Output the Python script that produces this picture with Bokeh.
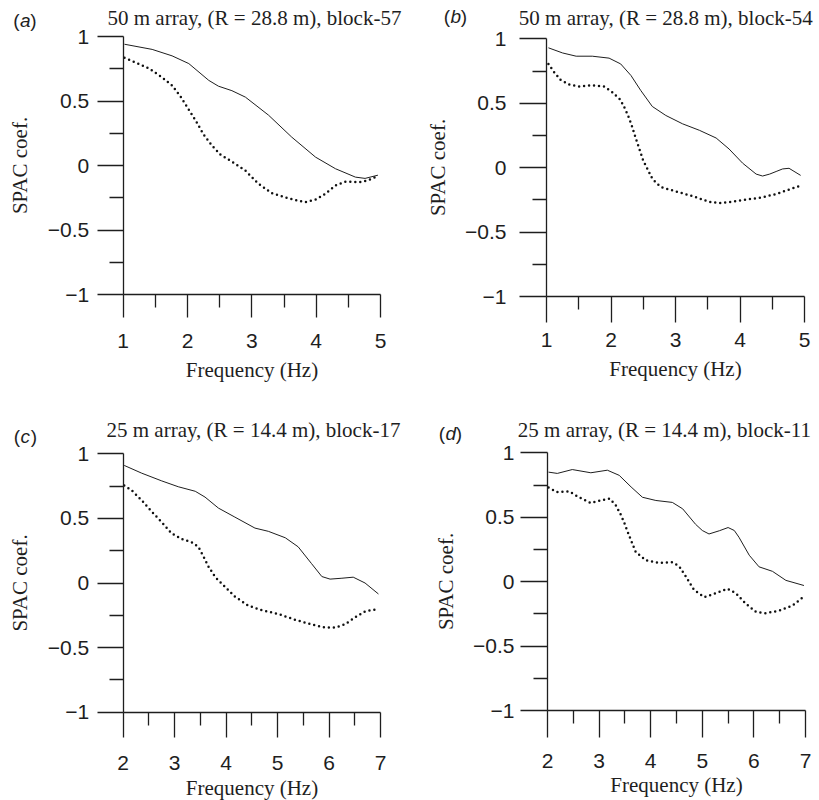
from bokeh.plotting import figure
from bokeh.layouts import column, row
from bokeh.models import FixedTicker, Label, Range1d, CustomJSTickFormatter
from bokeh.embed import file_html
from bokeh.resources import INLINE

# ---------------- data ----------------
Y_TICKS = [-1, -0.5, 0, 0.5, 1]
Y_MINOR = [-0.75, -0.25, 0.25, 0.75]
X_TICKS_TOP = [1, 2, 3, 4, 5]
X_MINOR_TOP = [1.5, 2.5, 3.5, 4.5]
X_TICKS_BOT = [2, 3, 4, 5, 6, 7]
X_MINOR_BOT = [2.5, 3.5, 4.5, 5.5, 6.5]

TITLES = ["50 m array, (R = 28.8 m), block-57",
          "50 m array, (R = 28.8 m), block-54",
          "25 m array, (R = 14.4 m), block-17",
          "25 m array, (R = 14.4 m), block-11"]
LETTERS = ["a", "b", "c", "d"]

A_SOLID_F = [1.02, 1.45, 1.76, 2.02, 2.33, 2.48, 2.69, 2.90, 3.26, 3.62, 3.99, 4.30, 4.61, 4.76, 4.96]
A_SOLID_V = [0.94, 0.90, 0.85, 0.79, 0.66, 0.615, 0.58, 0.53, 0.39, 0.22, 0.065, -0.025, -0.09, -0.10, -0.075]
A_DOT_F = [1.02, 1.21, 1.41, 1.60, 1.76, 1.89, 2.01, 2.13, 2.25, 2.38, 2.51, 2.69, 2.90, 3.10, 3.31,
           3.57, 3.83, 3.99, 4.14, 4.30, 4.45, 4.66, 4.81, 4.96]
A_DOT_V = [0.835, 0.795, 0.75, 0.685, 0.62, 0.535, 0.44, 0.345, 0.24, 0.155, 0.085, 0.03, -0.04, -0.14,
           -0.215, -0.255, -0.285, -0.265, -0.22, -0.155, -0.125, -0.13, -0.115, -0.08]

B_SOLID_F = [1.03, 1.25, 1.46, 1.71, 1.97, 2.15, 2.31, 2.46, 2.64, 2.85, 3.11, 3.37, 3.63, 3.83, 4.04,
             4.25, 4.35, 4.46, 4.56, 4.66, 4.76, 4.94]
B_SOLID_V = [0.93, 0.89, 0.865, 0.865, 0.85, 0.805, 0.715, 0.60, 0.475, 0.405, 0.34, 0.29, 0.23, 0.145,
             0.035, -0.05, -0.065, -0.05, -0.03, -0.01, -0.005, -0.06]
B_DOT_F = [1.03, 1.12, 1.22, 1.35, 1.51, 1.71, 1.89, 2.01, 2.14, 2.20, 2.26, 2.32, 2.38, 2.44, 2.50, 2.57,
           2.63, 2.70, 2.80, 3.01, 3.26, 3.52, 3.68, 3.88, 4.14, 4.35, 4.56, 4.76, 4.94]
B_DOT_V = [0.805, 0.74, 0.68, 0.645, 0.63, 0.64, 0.63, 0.59, 0.53, 0.475, 0.41, 0.33, 0.235, 0.145, 0.055,
           -0.015, -0.075, -0.12, -0.155, -0.185, -0.22, -0.265, -0.275, -0.265, -0.245, -0.23, -0.205,
           -0.17, -0.14]

C_SOLID_F = [2.02, 2.36, 2.75, 3.07, 3.40, 3.59, 3.85, 4.17, 4.56, 4.82, 5.15, 5.40, 5.66, 5.86, 6.02,
             6.25, 6.47, 6.70, 6.96]
C_SOLID_V = [0.91, 0.85, 0.79, 0.745, 0.71, 0.665, 0.58, 0.51, 0.425, 0.40, 0.35, 0.28, 0.15, 0.05, 0.03,
             0.037, 0.045, 0.0, -0.085]
C_DOT_F = [2.02, 2.17, 2.36, 2.56, 2.75, 2.94, 3.14, 3.33, 3.46, 3.56, 3.66, 3.79, 3.98, 4.17, 4.43, 4.69,
           5.02, 5.34, 5.66, 5.92, 6.12, 6.31, 6.51, 6.70, 6.96]
C_DOT_V = [0.755, 0.715, 0.64, 0.55, 0.47, 0.385, 0.34, 0.315, 0.28, 0.205, 0.125, 0.045, -0.03, -0.105,
           -0.175, -0.21, -0.24, -0.285, -0.32, -0.345, -0.345, -0.32, -0.265, -0.22, -0.20]

D_SOLID_F = [2.02, 2.19, 2.48, 2.84, 3.16, 3.39, 3.62, 3.84, 4.10, 4.42, 4.62, 4.87, 5.00, 5.13, 5.33,
             5.50, 5.62, 5.71, 5.91, 6.10, 6.36, 6.62, 6.97]
D_SOLID_V = [0.85, 0.84, 0.87, 0.845, 0.865, 0.825, 0.735, 0.655, 0.63, 0.615, 0.565, 0.445, 0.397, 0.37,
             0.395, 0.42, 0.397, 0.345, 0.205, 0.115, 0.08, 0.01, -0.03]
D_DOT_F = [2.02, 2.19, 2.42, 2.61, 2.84, 3.03, 3.20, 3.32, 3.42, 3.49, 3.55, 3.62, 3.71, 3.91, 4.16, 4.42,
           4.55, 4.68, 4.84, 5.04, 5.26, 5.49, 5.65, 5.84, 6.04, 6.23, 6.49, 6.75, 6.97]
D_DOT_V = [0.73, 0.695, 0.70, 0.655, 0.61, 0.63, 0.645, 0.595, 0.52, 0.455, 0.39, 0.32, 0.23, 0.165, 0.145,
           0.15, 0.12, 0.04, -0.065, -0.12, -0.09, -0.055, -0.09, -0.17, -0.235, -0.245, -0.225, -0.185,
           -0.115]

INK = "#1e1e1e"
SANS = "Liberation Sans"
SERIF = "Liberation Serif"


def make_panel(w, h, xb, px0, px1, py_top, py_bot, xt, xm, sf, sv, df, dv, title, letter,
               title_off, letter_off, ytick_out, xtick_out, y_std, x_std, ylab_std, xlab_std):
    # map the axis box (in figure pixels) onto data ranges so the frame is the whole figure
    sx = (px1 - px0) / (xb[1] - xb[0])
    sy = (py_bot - py_top) / 2.0
    xr = Range1d(xb[0] - px0 / sx, xb[1] + (w - px1) / sx)
    yr = Range1d(-1 - (h - py_bot) / sy, 1 + py_top / sy)
    p = figure(width=w, height=h, x_range=xr, y_range=yr, title=None,
               output_backend="svg", toolbar_location=None,
               min_border_left=0, min_border_right=0, min_border_top=0, min_border_bottom=0,
               x_axis_location="below", y_axis_location="left")
    p.grid.visible = False
    p.outline_line_color = None
    p.background_fill_color = "white"
    p.border_fill_color = "white"

    xax = p.xaxis[0]
    yax = p.yaxis[0]
    xax.fixed_location = -1
    yax.fixed_location = xb[0]
    xax.bounds = (xb[0], xb[1])
    yax.bounds = (-1, 1)
    xax.ticker = FixedTicker(ticks=xt, minor_ticks=xm)
    yax.ticker = FixedTicker(ticks=Y_TICKS, minor_ticks=Y_MINOR)
    yax.formatter = CustomJSTickFormatter(
        code="return tick < 0 ? '\u2212' + String(-tick) : String(tick);")

    for ax in (xax, yax):
        ax.axis_line_color = INK
        ax.axis_line_width = 1.3
        ax.major_tick_line_color = INK
        ax.minor_tick_line_color = INK
        ax.major_tick_line_width = 1.3
        ax.minor_tick_line_width = 1.3
        ax.major_tick_in = 0
        ax.minor_tick_in = 0
        ax.major_label_text_font = SANS
        ax.major_label_text_font_size = "21px"
        ax.major_label_text_color = INK
        ax.axis_label_text_font = SERIF
        ax.axis_label_text_font_style = "normal"
        ax.axis_label_text_font_size = "21px"
        ax.axis_label_text_color = INK

    yax.major_tick_out = ytick_out
    yax.minor_tick_out = 14
    yax.major_label_standoff = y_std
    yax.axis_label = "SPAC coef."
    yax.axis_label_standoff = ylab_std

    xax.major_tick_out = xtick_out
    xax.minor_tick_out = 13
    xax.major_label_standoff = x_std
    xax.axis_label = "Frequency (Hz)"
    xax.axis_label_standoff = xlab_std

    p.line(sf, sv, line_color=INK, line_width=1.0)
    p.line(df, dv, line_color="#111111", line_width=2.5, line_dash="0 5", line_cap="round")

    p.add_layout(Label(x=xb[0], y=1, x_offset=title_off[0], y_offset=title_off[1], text=title,
                       text_font=SERIF, text_font_size="21px", text_color=INK,
                       text_baseline="alphabetic", text_align="left"))
    lx, ly = letter_off
    p.add_layout(Label(x=xb[0], y=1, x_offset=lx, y_offset=ly, text="(",
                       text_font=SANS, text_font_size="19px", text_color=INK,
                       text_baseline="alphabetic", text_align="left"))
    p.add_layout(Label(x=xb[0], y=1, x_offset=lx + 6.8, y_offset=ly, text=letter,
                       text_font=SANS, text_font_size="19px", text_font_style="italic",
                       text_color=INK, text_baseline="alphabetic", text_align="left"))
    p.add_layout(Label(x=xb[0], y=1, x_offset=lx + 17.0, y_offset=ly, text=")",
                       text_font=SANS, text_font_size="19px", text_color=INK,
                       text_baseline="alphabetic", text_align="left"))
    return p


pa = make_panel(413, 404, (1, 5), 122.7, 380, 36, 294, X_TICKS_TOP, X_MINOR_TOP,
                A_SOLID_F, A_SOLID_V, A_DOT_F, A_DOT_V, TITLES[0], LETTERS[0],
                (-15.7, 18.3), (-110, 16), 26, 23, 8, 16, 13, 7)
pb = make_panel(406, 404, (1, 5), 133, 391, 38.3, 296, X_TICKS_TOP, X_MINOR_TOP,
                B_SOLID_F, B_SOLID_V, B_DOT_F, B_DOT_V, TITLES[1], LETTERS[1],
                (-27.7, 20.6), (-102.7, 22), 27, 26, 13, 10, 12, 7)
pc = make_panel(413, 396, (2, 7), 122.7, 380, 49.3, 307.7, X_TICKS_BOT, X_MINOR_BOT,
                C_SOLID_F, C_SOLID_V, C_DOT_F, C_DOT_V, TITLES[2], LETTERS[2],
                (-16.7, 24), (-109.4, 17), 26, 25, 8, 19, 13, 2)
pd_ = make_panel(406, 396, (2, 7), 134, 392, 48.3, 306, X_TICKS_BOT, X_MINOR_BOT,
                 D_SOLID_F, D_SOLID_V, D_DOT_F, D_DOT_V, TITLES[3], LETTERS[3],
                 (-29.7, 23), (-108.7, 19), 27, 27, 6, 16, 12, 2)

layout = column(row(pa, pb), row(pc, pd_))
open("out.html", "w").write(file_html(layout, INLINE))
